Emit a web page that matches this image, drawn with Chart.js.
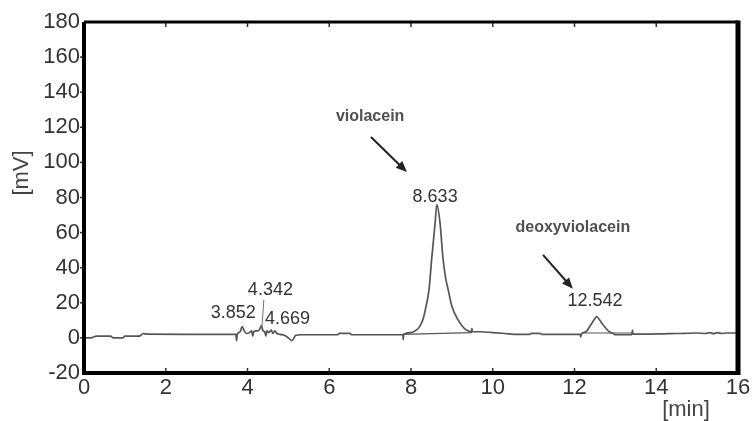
<!DOCTYPE html>
<html>
<head>
<meta charset="utf-8">
<script src="https://cdn.jsdelivr.net/npm/chart.js@4"></script>
<style>
    html, body { margin: 0; padding: 0; background: #fff; }
    #wrap { width: 755px; height: 421px; }
</style>
</head>
<body>
<div id="wrap"><canvas id="chromChart" width="755" height="421"></canvas></div>
<script>
// retention time [min] and detector signal [mV]
const times = [
    0.00, 0.20, 0.30, 0.65, 0.72, 0.95, 1.00, 1.35, 1.45, 1.53,
    2.50, 3.00, 3.72, 3.73, 3.75, 3.82, 3.87, 3.92, 3.98, 4.05,
    4.10, 4.13, 4.15, 4.25, 4.30, 4.34, 4.38, 4.42, 4.45, 4.47,
    4.52, 4.58, 4.62, 4.67, 4.72, 4.80, 4.90, 5.00, 5.08, 5.12,
    5.18, 5.30, 6.20, 6.25, 6.50, 6.55, 7.50, 7.80, 7.81, 7.82,
    8.00, 8.10, 8.20, 8.29, 8.35, 8.44, 8.51, 8.59, 8.633, 8.71,
    8.78, 8.84, 8.91, 9.00, 9.15, 9.30, 9.44, 9.48, 9.49, 9.50,
    9.70, 10.00, 10.30, 10.60, 10.90, 10.95, 11.15, 11.20, 12.00, 12.14,
    12.15, 12.17, 12.28, 12.40, 12.50, 12.542, 12.62, 12.70, 12.85, 12.95,
    13.00, 13.40, 13.42, 13.43, 13.80, 14.50, 15.00, 15.20, 15.30, 15.40,
    15.50, 15.60, 15.70, 16.00
];
const signal = [
    0.0, 0.2, 1.0, 1.0, 0.0, 0.0, 1.0, 1.0, 2.5, 2.1,
    2.0, 2.0, 2.0, -1.5, 2.0, 3.5, 6.5, 4.0, 2.5, 3.0,
    4.0, 1.0, 3.5, 4.0, 5.0, 7.0, 4.0, 3.5, 1.0, 4.0,
    3.0, 4.5, 2.5, 4.0, 2.5, 2.0, 1.5, 0.0, -1.5, -0.8,
    1.5, 1.8, 1.8, 2.6, 2.6, 1.8, 1.8, 1.8, -1.0, 2.0,
    3.0, 4.0, 6.0, 10.3, 16.0, 27.4, 46.0, 65.5, 76.0, 65.5,
    46.0, 35.0, 27.4, 18.0, 10.3, 5.5, 3.6, 3.5, 5.5, 3.5,
    3.5, 3.0, 2.5, 2.0, 2.0, 2.6, 2.6, 2.0, 2.0, 2.0,
    0.5, 2.2, 3.5, 7.5, 11.0, 12.2, 10.0, 7.4, 3.6, 2.5,
    1.8, 1.8, 4.5, 2.2, 2.2, 2.5, 2.8, 2.5, 3.0, 2.4,
    3.0, 2.5, 2.8, 2.8
];

// integration baselines under the two named peaks
const baseViolacein = [[7.80, 2.0], [9.49, 3.0]];
const baseDeoxy = [[12.20, 2.8], [13.42, 2.8]];

const xTicks = [0, 2, 4, 6, 8, 10, 12, 14, 16];
const yTicks = [-20, 0, 20, 40, 60, 80, 100, 120, 140, 160, 180];

// peak labels: text, x, y (data units)
const peakLabels = [
    ['8.633', 8.59, 80.3],
    ['12.542', 12.50, 21.1],
    ['3.852', 3.65, 14.2],
    ['4.342', 4.56, 27.4],
    ['4.669', 4.98, 10.8]
];
// compound names with arrows: text, text x, y, arrow from x, y, to x, y
const compounds = [
    ['violacein', 7.00, 126.0, 7.02, 114.5, 7.90, 94.5],
    ['deoxyviolacein', 11.96, 62.7, 11.23, 47.3, 11.96, 28.0]
];

function toPoints(xs, ys) {
    return xs.map((x, i) => ({x: x, y: ys[i]}));
}

const framePlugin = {
    id: 'frame',
    afterDraw(chart) {
        const ctx = chart.ctx;
        const a = chart.chartArea;
        const xs = chart.scales.x;
        const ys = chart.scales.y;
        ctx.save();

        // inward ticks on top and bottom
        ctx.strokeStyle = '#333';
        ctx.lineWidth = 1.5;
        xTicks.slice(1, -1).forEach(v => {
            const px = xs.getPixelForValue(v);
            ctx.beginPath();
            ctx.moveTo(px, a.bottom);
            ctx.lineTo(px, a.bottom - 5);
            ctx.moveTo(px, a.top);
            ctx.lineTo(px, a.top + 5);
            ctx.stroke();
        });
        yTicks.slice(1, -1).forEach(v => {
            const py = ys.getPixelForValue(v);
            ctx.beginPath();
            ctx.moveTo(a.left - 4, py);
            ctx.lineTo(a.left, py);
            ctx.stroke();
        });

        // frame
        ctx.strokeStyle = '#000';
        ctx.lineWidth = 3;
        ctx.beginPath();
        ctx.moveTo(a.left, a.top);
        ctx.lineTo(a.right, a.top);
        ctx.stroke();
        ctx.lineWidth = 4;
        ctx.beginPath();
        ctx.moveTo(a.left, a.top);
        ctx.lineTo(a.left, a.bottom);
        ctx.lineTo(a.right, a.bottom);
        ctx.stroke();
        ctx.lineWidth = 5;
        ctx.beginPath();
        ctx.moveTo(a.right, a.top - 1.5);
        ctx.lineTo(a.right, a.bottom + 2);
        ctx.stroke();

        // peak numbers
        ctx.fillStyle = '#333';
        ctx.font = '18px "Liberation Sans", Arial, sans-serif';
        ctx.textAlign = 'center';
        ctx.textBaseline = 'middle';
        peakLabels.forEach(l => {
            ctx.fillText(l[0], xs.getPixelForValue(l[1]), ys.getPixelForValue(l[2]));
        });

        // leader line for 4.342
        ctx.strokeStyle = '#8a6a5a';
        ctx.lineWidth = 1;
        ctx.beginPath();
        ctx.moveTo(xs.getPixelForValue(4.40), ys.getPixelForValue(21.7));
        ctx.lineTo(xs.getPixelForValue(4.35), ys.getPixelForValue(5.0));
        ctx.stroke();

        // compound names and arrows
        ctx.font = 'bold 16px "Liberation Sans", Arial, sans-serif';
        compounds.forEach(c => {
            ctx.fillStyle = '#505050';
            ctx.fillText(c[0], xs.getPixelForValue(c[1]), ys.getPixelForValue(c[2]));
            const x0 = xs.getPixelForValue(c[3]), y0 = ys.getPixelForValue(c[4]);
            const x1 = xs.getPixelForValue(c[5]), y1 = ys.getPixelForValue(c[6]);
            const ang = Math.atan2(y1 - y0, x1 - x0);
            ctx.strokeStyle = '#222';
            ctx.lineWidth = 2;
            ctx.beginPath();
            ctx.moveTo(x0, y0);
            ctx.lineTo(x1 - 8 * Math.cos(ang), y1 - 8 * Math.sin(ang));
            ctx.stroke();
            ctx.fillStyle = '#222';
            ctx.beginPath();
            ctx.moveTo(x1, y1);
            ctx.lineTo(x1 - 12 * Math.cos(ang - 0.4), y1 - 12 * Math.sin(ang - 0.4));
            ctx.lineTo(x1 - 12 * Math.cos(ang + 0.4), y1 - 12 * Math.sin(ang + 0.4));
            ctx.closePath();
            ctx.fill();
        });

        // axis titles
        ctx.fillStyle = '#444';
        ctx.font = '22px "Liberation Sans", Arial, sans-serif';
        ctx.fillText('[min]', 686, 410);
        ctx.translate(22, 173);
        ctx.rotate(-Math.PI / 2);
        ctx.fillText('[mV]', 0, 0);
        ctx.restore();
    }
};

const ctx = document.getElementById('chromChart').getContext('2d');
new Chart(ctx, {
    type: 'line',
    data: {
        datasets: [
            {
                label: 'signal',
                data: toPoints(times, signal),
                borderColor: '#555',
                borderWidth: 1.7,
                pointRadius: 0,
                fill: false,
                cubicInterpolationMode: 'monotone'
            },
            {
                label: 'baseline 1',
                data: baseViolacein.map(p => ({x: p[0], y: p[1]})),
                borderColor: '#555',
                borderWidth: 1.2,
                pointRadius: 0
            },
            {
                label: 'baseline 2',
                data: baseDeoxy.map(p => ({x: p[0], y: p[1]})),
                borderColor: '#555',
                borderWidth: 1.2,
                pointRadius: 0
            }
        ]
    },
    options: {
        responsive: false,
        animation: false,
        layout: {padding: {top: 22, right: 17, left: 0, bottom: 0}},
        plugins: {
            legend: {display: false},
            tooltip: {enabled: false}
        },
        scales: {
            x: {
                type: 'linear',
                min: 0,
                max: 16,
                afterFit: s => { s.height = 48; },
                afterBuildTicks: s => { s.ticks = xTicks.map(v => ({value: v})); },
                grid: {display: false, drawTicks: false},
                border: {display: false},
                ticks: {
                    color: '#333',
                    padding: 2,
                    maxRotation: 0,
                    font: {family: '"Liberation Sans", Arial, sans-serif', size: 22}
                }
            },
            y: {
                min: -20,
                max: 180,
                afterFit: s => { s.width = 84; },
                afterBuildTicks: s => { s.ticks = yTicks.map(v => ({value: v})); },
                grid: {display: false, drawTicks: false},
                border: {display: false},
                ticks: {
                    color: '#333',
                    padding: 4,
                    font: {family: '"Liberation Sans", Arial, sans-serif', size: 22}
                }
            }
        }
    },
    plugins: [framePlugin]
});
</script>
</body>
</html>
